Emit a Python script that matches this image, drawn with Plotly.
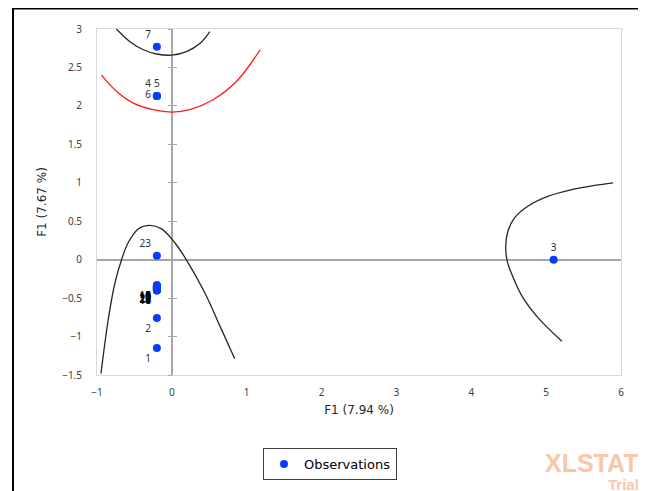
import plotly.graph_objects as go

# ---- data ----
obs_labels = ["1", "2", "3", "4", "5", "6", "7",
              "8", "9", "10", "11", "12", "13", "14", "15",
              "16", "17", "18", "19", "20", "21", "22", "23"]
obs_x = [-0.2, -0.2, 5.1, -0.2, -0.2, -0.2, -0.2,
         -0.2, -0.2, -0.2, -0.2, -0.2, -0.2, -0.2, -0.2,
         -0.2, -0.2, -0.2, -0.2, -0.2, -0.2, -0.2, -0.2]
obs_y = [-1.15, -0.76, 0.0, 2.13, 2.13, 2.13, 2.77,
         -0.33, -0.35, -0.36, -0.37, -0.38, -0.39, -0.40, -0.34,
         -0.36, -0.38, -0.40, -0.35, -0.37, -0.39, -0.38, 0.05]
label_pos = ["bottom left", "bottom left", "top center", "top left", "top center",
             "middle left", "top left"] + ["bottom left"] * 15 + ["top left"]
label_col = ["#333333"] * 7 + ["#000000"] * 15 + ["#333333"]

# black curve near the top
top_x = [-0.74, -0.56, -0.38, -0.204, 0.0, 0.196, 0.374, 0.508]
top_y = [3.0, 2.835, 2.73, 2.675, 2.66, 2.705, 2.81, 2.965]
# red curve
red_x = [-0.94, -0.74, -0.515, -0.25, 0.0, 0.24, 0.55, 0.865, 1.18]
red_y = [2.40, 2.19, 2.036, 1.95, 1.92, 1.95, 2.08, 2.32, 2.73]
# lower black curve
low_x = [-0.947, -0.85, -0.76, -0.672, -0.584, -0.45, -0.294, -0.138, 0.04, 0.196, 0.44, 0.664, 0.84]
low_y = [-1.48, -0.78, -0.30, 0.0, 0.22, 0.40, 0.445, 0.40, 0.22, -0.005, -0.43, -0.91, -1.29]
# right black curve
right_x = [5.895, 5.65, 5.34, 5.03, 4.76, 4.58, 4.49, 4.46, 4.48, 4.56, 4.69, 4.89, 5.21]
right_y = [1.0, 0.967, 0.91, 0.826, 0.697, 0.546, 0.372, 0.176, -0.018, -0.234, -0.494, -0.753, -1.06]

x_range = [-1, 6]
y_range = [-1.5, 3]
x_title = "F1 (7.94 %)"
y_title = "F1 (7.67 %)"

FONT = "Noto Sans"
TFONT = "DejaVu Sans"
fig = go.Figure()

for cx, cy, col in [(top_x, top_y, "#262626"), (red_x, red_y, "#ff1a1a"),
                    (low_x, low_y, "#262626"), (right_x, right_y, "#262626")]:
    fig.add_trace(go.Scatter(x=cx, y=cy, mode="lines", line=dict(color=col, width=1.3, shape="spline"),
                             showlegend=False, hoverinfo="skip"))

fig.add_trace(go.Scatter(
    x=obs_x, y=obs_y, mode="markers+text", name="Observations",
    text=obs_labels, textposition=label_pos,
    textfont=dict(family=FONT, size=10, color=label_col),
    marker=dict(color="#0a3cff", size=8),
))

# dummy traces for the tick-only axes on the vertical zero line
fig.add_trace(go.Scatter(x=[None], y=[None], xaxis="x", yaxis="y2", showlegend=False, hoverinfo="skip"))
fig.add_trace(go.Scatter(x=[None], y=[None], xaxis="x", yaxis="y3", showlegend=False, hoverinfo="skip"))

zero_pos = (0 - x_range[0]) / (x_range[1] - x_range[0])
tick_axis = dict(range=y_range, dtick=0.5, overlaying="y", anchor="free", position=zero_pos,
                 showline=False, showgrid=False, zeroline=False, showticklabels=False,
                 ticklen=4, tickcolor="#a6a6a6", tickwidth=1)

W, H = 638, 483
L, T = 89, 21
PW, PH = 524, 347

fig.update_layout(
    width=W, height=H,
    margin=dict(l=L, r=W - L - PW, t=T, b=H - T - PH),
    paper_bgcolor="white", plot_bgcolor="white",
    font=dict(family=FONT, size=10, color="#404040"),
    xaxis=dict(range=x_range, dtick=1, showgrid=False, showline=True, mirror=True,
               linecolor="#d9d9d9", linewidth=1, ticks="", zeroline=True, zerolinecolor="#a6a6a6",
               zerolinewidth=1.5, ticklabelstandoff=8,
               title=dict(text=x_title, font=dict(family=TFONT, size=12, color="#262626"), standoff=7)),
    yaxis=dict(range=y_range, dtick=0.5, showgrid=False, showline=True, mirror=True,
               linecolor="#d9d9d9", linewidth=1, ticks="", zeroline=True, zerolinecolor="#a6a6a6",
               zerolinewidth=1.5, ticklabelstandoff=12,
               title=dict(text=y_title, font=dict(family=TFONT, size=12, color="#262626"), standoff=12)),
    yaxis2=dict(tick_axis, ticks="outside"),
    yaxis3=dict(tick_axis, ticks="inside"),
    legend=dict(orientation="h", x=(330 - 97) / PW, xanchor="center", y=-(464 - 376) / PH, yanchor="middle",
                bordercolor="#404040", borderwidth=1, font=dict(family=TFONT, size=13, color="#000000")),
    showlegend=True,
)

# outer frame (screen coords converted to paper)
def px(sx):
    return (sx - 97) / PW

def py(sy):
    return (376 - sy) / PH

fig.add_shape(type="line", xref="paper", yref="paper", x0=px(13), x1=px(643),
              y0=py(8.5), y1=py(8.5), line=dict(color="black", width=2))
fig.add_shape(type="line", xref="paper", yref="paper", x0=px(13), x1=px(13),
              y0=py(8), y1=py(495), line=dict(color="black", width=2))
fig.add_shape(type="line", xref="paper", yref="paper", x0=px(643), x1=px(643),
              y0=py(8), y1=py(495), line=dict(color="#cccccc", width=1.5))

# watermark
fig.add_annotation(text="<b>XLSTAT</b>", xref="paper", yref="paper", x=px(641), xanchor="right",
                   y=py(464), yanchor="middle", showarrow=False,
                   font=dict(family="Liberation Sans", size=25, color="#fbc6a8"))
fig.add_annotation(text="<b>Trial</b>", xref="paper", yref="paper", x=px(641), xanchor="right",
                   y=py(486), yanchor="middle", showarrow=False,
                   font=dict(family="Liberation Sans", size=15, color="#fbc6a8"))

fig.write_html("out.html")
